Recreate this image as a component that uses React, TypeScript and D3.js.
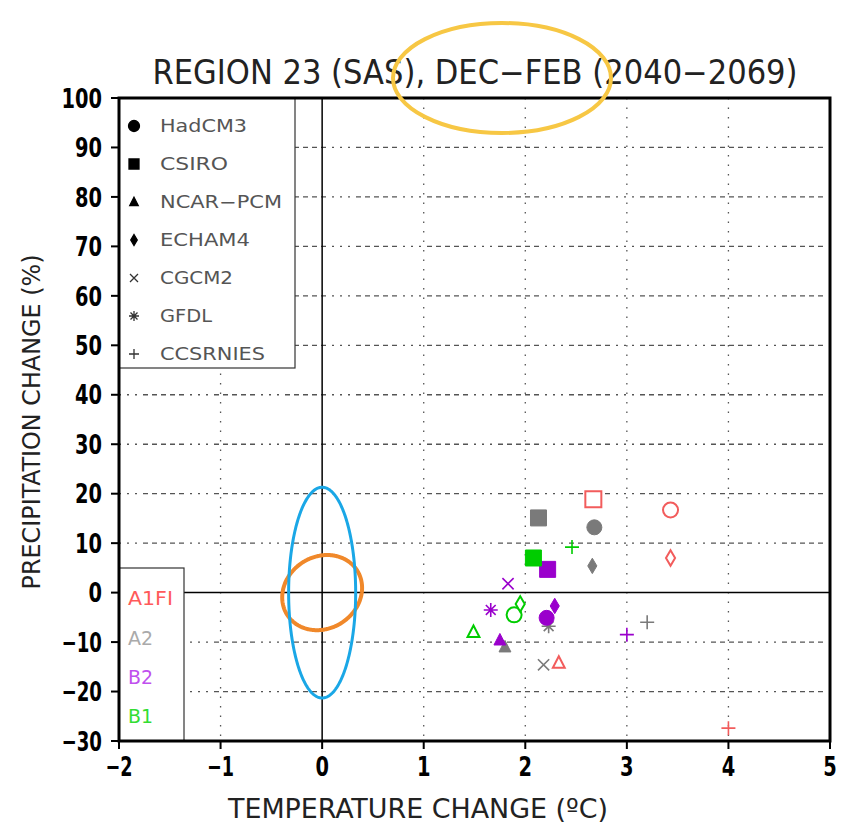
import React, { useEffect, useRef } from "react";
import * as d3 from "d3";

// scenario names and colours
const scenarios = ["A1FI", "A2", "B2", "B1"];
const scenarioColors = ["#f25c5c", "#7a7a7a", "#9a00cc", "#00cc00"];
const scenarioLabelColors = ["#ff5a5a", "#aaaaaa", "#c050ee", "#33dd33"];

const models = ["HadCM3", "CSIRO", "NCAR-PCM", "ECHAM4", "CGCM2", "GFDL", "CCSRNIES"];

// [model, temperature change, precipitation change, filled]
const a1fiPoints: [string, number, number, boolean][] = [
  ["CSIRO", 2.67, 18.9, false],
  ["HadCM3", 3.43, 16.7, false],
  ["ECHAM4", 3.43, 7.0, false],
  ["NCAR-PCM", 2.33, -14.2, false],
  ["CCSRNIES", 4.0, -27.4, false],
];
const a2Points: [string, number, number, boolean][] = [
  ["CSIRO", 2.13, 15.1, true],
  ["HadCM3", 2.68, 13.2, true],
  ["ECHAM4", 2.66, 5.4, true],
  ["NCAR-PCM", 1.8, -11.0, true],
  ["CGCM2", 2.18, -14.6, true],
  ["GFDL", 2.23, -6.8, true],
  ["CCSRNIES", 3.2, -6.0, true],
];
const b2Points: [string, number, number, boolean][] = [
  ["CSIRO", 2.22, 4.7, true],
  ["HadCM3", 2.21, -5.1, true],
  ["ECHAM4", 2.29, -2.7, true],
  ["NCAR-PCM", 1.75, -9.6, true],
  ["CGCM2", 1.83, 1.8, true],
  ["GFDL", 1.66, -3.5, true],
  ["CCSRNIES", 3.0, -8.5, true],
];
const b1Points: [string, number, number, boolean][] = [
  ["CSIRO", 2.08, 7.0, true],
  ["HadCM3", 1.89, -4.5, false],
  ["ECHAM4", 1.95, -2.3, false],
  ["NCAR-PCM", 1.49, -8.0, false],
  ["CCSRNIES", 2.46, 9.2, true],
];
const scenarioPoints = [a1fiPoints, a2Points, b2Points, b1Points];

const xTicks = [-2, -1, 0, 1, 2, 3, 4, 5];
const yTicks = [100, 90, 80, 70, 60, 50, 40, 30, 20, 10, 0, -10, -20, -30];

// natural variability ellipses: [cx, cy, rx, ry, shear]
const blueEllipse = [0, 0, 0.33, 21.3, 0];
const orangeEllipse = [0.0, 0, 0.39, 7.6, 0.05];

const FONT = "'DejaVu Sans Condensed', 'DejaVu Sans', sans-serif";

// text widths of the narrow plot font, by label
const modelTextWidth: Record<string, number> = {
  HadCM3: 87, CSIRO: 68, "NCAR-PCM": 122, ECHAM4: 90, CGCM2: 73, GFDL: 52, CCSRNIES: 105,
};

function markerPath(model: string, s: number): string {
  switch (model) {
    case "HadCM3":
      return `M${s},0A${s},${s} 0 1,1 ${-s},0A${s},${s} 0 1,1 ${s},0Z`;
    case "CSIRO":
      return `M${-s},${-s}H${s}V${s}H${-s}Z`;
    case "NCAR-PCM":
      return `M0,${-s * 0.95}L${s * 0.85},${s * 0.7}L${-s * 0.85},${s * 0.7}Z`;
    case "ECHAM4":
      return `M0,${-s * 1.1}L${s * 0.65},0L0,${s * 1.1}L${-s * 0.65},0Z`;
    case "CGCM2":
      return `M${-s * 0.8},${-s * 0.8}L${s * 0.8},${s * 0.8}M${s * 0.8},${-s * 0.8}L${-s * 0.8},${s * 0.8}`;
    case "GFDL":
      return `M${-s * 0.7},${-s * 0.7}L${s * 0.7},${s * 0.7}M${s * 0.7},${-s * 0.7}L${-s * 0.7},${s * 0.7}M0,${-s}V${s}M${-s},0H${s}`;
    default:
      return `M${-s},0H${s}M0,${-s}V${s}`;
  }
}
const isLine = (m: string) => m === "CGCM2" || m === "GFDL" || m === "CCSRNIES";
const fmt = (t: number) => (t < 0 ? `\u2212${-t}` : `${t}`);

const App: React.FC = () => {
  const svgRef = useRef<SVGSVGElement | null>(null);

  useEffect(() => {
    if (!svgRef.current) return;
    const svg = d3.select(svgRef.current);
    svg.selectAll("*").remove();

    const left = 119, right = 830, top = 98, bottom = 741;
    const x = d3.scaleLinear().domain([-2, 5]).range([left, right]);
    const y = d3.scaleLinear().domain([-30, 100]).range([bottom, top]);

    svg.append("rect").attr("width", 849).attr("height", 827).attr("fill", "#fff");

    // grid
    const grid = svg.append("g");
    grid.selectAll("line.vg")
      .data(xTicks.filter((d) => d !== 0 && d > -2 && d < 5))
      .enter()
      .append("line")
      .attr("x1", (d) => x(d)).attr("x2", (d) => x(d))
      .attr("y1", top).attr("y2", bottom)
      .attr("stroke", "#555").attr("stroke-width", 1.3)
      .attr("stroke-dasharray", "1.5 8");
    grid.selectAll("line.hg")
      .data(yTicks.filter((d) => d !== 0 && d > -30 && d < 100))
      .enter()
      .append("line")
      .attr("x1", left).attr("x2", right)
      .attr("y1", (d) => y(d)).attr("y2", (d) => y(d))
      .attr("stroke", "#555").attr("stroke-width", 1.3)
      .attr("stroke-dasharray", "2 6 2 6 2 6 5 4 5 4 5 4 5 4 5 6");

    // zero lines
    svg.append("line").attr("x1", x(0)).attr("x2", x(0)).attr("y1", top).attr("y2", bottom)
      .attr("stroke", "#000").attr("stroke-width", 1.5);
    svg.append("line").attr("x1", left).attr("x2", right).attr("y1", y(0)).attr("y2", y(0))
      .attr("stroke", "#000").attr("stroke-width", 1.5);

    // ellipses
    const ellipseLine = (e: number[]) => {
      const [cx, cy, rx, ry, shear] = e;
      const pts = d3.range(0, 2 * Math.PI + 0.02, 0.02).map((t) =>
        [x(cx + rx * Math.cos(t) + shear * Math.sin(t)), y(cy + ry * Math.sin(t))] as [number, number]
      );
      return d3.line()(pts) || "";
    };
    svg.append("path").attr("d", ellipseLine(orangeEllipse)).attr("fill", "none")
      .attr("stroke", "#f0882a").attr("stroke-width", 4);
    svg.append("path").attr("d", ellipseLine(blueEllipse)).attr("fill", "none")
      .attr("stroke", "#1aa7e6").attr("stroke-width", 3);

    // data markers
    scenarioPoints.forEach((pts, si) => {
      const color = scenarioColors[si];
      pts.forEach(([model, dt, dp, filled]) => {
        const size = model === "CSIRO" ? 8 : model === "HadCM3" ? 7.5 : 7;
        const line = isLine(model);
        svg.append("path")
          .attr("transform", `translate(${x(dt)},${y(dp)})`)
          .attr("d", markerPath(model, size))
          .attr("fill", line ? "none" : filled ? color : "#fff")
          .attr("stroke", color)
          .attr("stroke-width", line ? 1.6 : filled ? 1 : 2);
      });
    });

    // model legend
    const lg = svg.append("g");
    lg.append("rect").attr("x", left).attr("y", top).attr("width", 295 - left).attr("height", 368 - top)
      .attr("fill", "#fff").attr("stroke", "#333").attr("stroke-width", 1.2);
    models.forEach((m, i) => {
      const cy = 126 + i * 38;
      lg.append("path")
        .attr("transform", `translate(134,${cy})`)
        .attr("d", markerPath(m, m === "HadCM3" ? 5.5 : 5))
        .attr("fill", isLine(m) ? "none" : "#000")
        .attr("stroke", isLine(m) ? "#333" : "#000")
        .attr("stroke-width", 1.3);
      lg.append("text").attr("x", 160).attr("y", cy).attr("dy", "0.36em")
        .attr("font-family", FONT).attr("font-size", 17).attr("fill", "#555")
        .attr("textLength", modelTextWidth[m]).attr("lengthAdjust", "spacingAndGlyphs")
        .text(m === "NCAR-PCM" ? "NCAR\u2212PCM" : m);
    });

    // scenario legend
    const sg = svg.append("g");
    sg.append("rect").attr("x", left).attr("y", 568).attr("width", 184 - left).attr("height", bottom - 568)
      .attr("fill", "#fff").attr("stroke", "#333").attr("stroke-width", 1.2);
    scenarios.forEach((s, i) => {
      sg.append("text").attr("x", 128).attr("y", 598 + i * 39.3).attr("dy", "0.36em")
        .attr("font-family", FONT).attr("font-size", 20).attr("fill", scenarioLabelColors[i])
        .attr("textLength", s.length === 4 ? 45 : 25).attr("lengthAdjust", "spacingAndGlyphs")
        .text(s);
    });

    // frame
    svg.append("rect").attr("x", left).attr("y", top).attr("width", right - left).attr("height", bottom - top)
      .attr("fill", "none").attr("stroke", "#000").attr("stroke-width", 3);

    // axes ticks and labels
    const yAxis = svg.append("g");
    yTicks.forEach((t) => {
      yAxis.append("line").attr("x1", left - 8).attr("x2", left).attr("y1", y(t)).attr("y2", y(t))
        .attr("stroke", "#000").attr("stroke-width", 2);
      const label = fmt(t);
      yAxis.append("text").attr("x", 102).attr("y", y(t)).attr("dy", "0.36em")
        .attr("text-anchor", "end").attr("font-family", FONT).attr("font-size", 27)
        .attr("font-weight", "bold").attr("fill", "#000")
        .attr("textLength", label.length * 13.5).attr("lengthAdjust", "spacingAndGlyphs")
        .text(label);
    });
    const xAxis = svg.append("g");
    xTicks.forEach((t) => {
      xAxis.append("line").attr("x1", x(t)).attr("x2", x(t)).attr("y1", bottom).attr("y2", bottom + 8)
        .attr("stroke", "#000").attr("stroke-width", 2);
      const label = fmt(t);
      xAxis.append("text").attr("x", x(t)).attr("y", 766).attr("dy", "0.36em")
        .attr("text-anchor", "middle").attr("font-family", FONT).attr("font-size", 27)
        .attr("font-weight", "bold").attr("fill", "#000")
        .attr("textLength", label.length * 13.5).attr("lengthAdjust", "spacingAndGlyphs")
        .text(label);
    });

    // titles
    svg.append("text").attr("x", 475).attr("y", 84).attr("text-anchor", "middle")
      .attr("font-family", FONT).attr("font-size", 33).attr("fill", "#222")
      .attr("textLength", 645).attr("lengthAdjust", "spacingAndGlyphs")
      .text("REGION 23 (SAS), DEC\u2212FEB (2040\u22122069)");
    svg.append("text").attr("x", 418).attr("y", 818).attr("text-anchor", "middle")
      .attr("font-family", FONT).attr("font-size", 27).attr("fill", "#222")
      .attr("textLength", 380).attr("lengthAdjust", "spacingAndGlyphs")
      .text("TEMPERATURE CHANGE (\u00baC)");
    svg.append("text").attr("transform", "translate(40,422) rotate(-90)").attr("text-anchor", "middle")
      .attr("font-family", FONT).attr("font-size", 25).attr("fill", "#222")
      .attr("textLength", 335).attr("lengthAdjust", "spacingAndGlyphs")
      .text("PRECIPITATION CHANGE (%)");

    // highlight annotation
    svg.append("ellipse").attr("cx", 502).attr("cy", 78).attr("rx", 109).attr("ry", 55)
      .attr("fill", "none").attr("stroke", "#f7c744").attr("stroke-width", 4);
  }, []);

  return (
    <svg
      ref={svgRef}
      width={849}
      height={827}
      style={{ position: "absolute", left: 0, top: 0, display: "block" }}
    />
  );
};

export default App;
